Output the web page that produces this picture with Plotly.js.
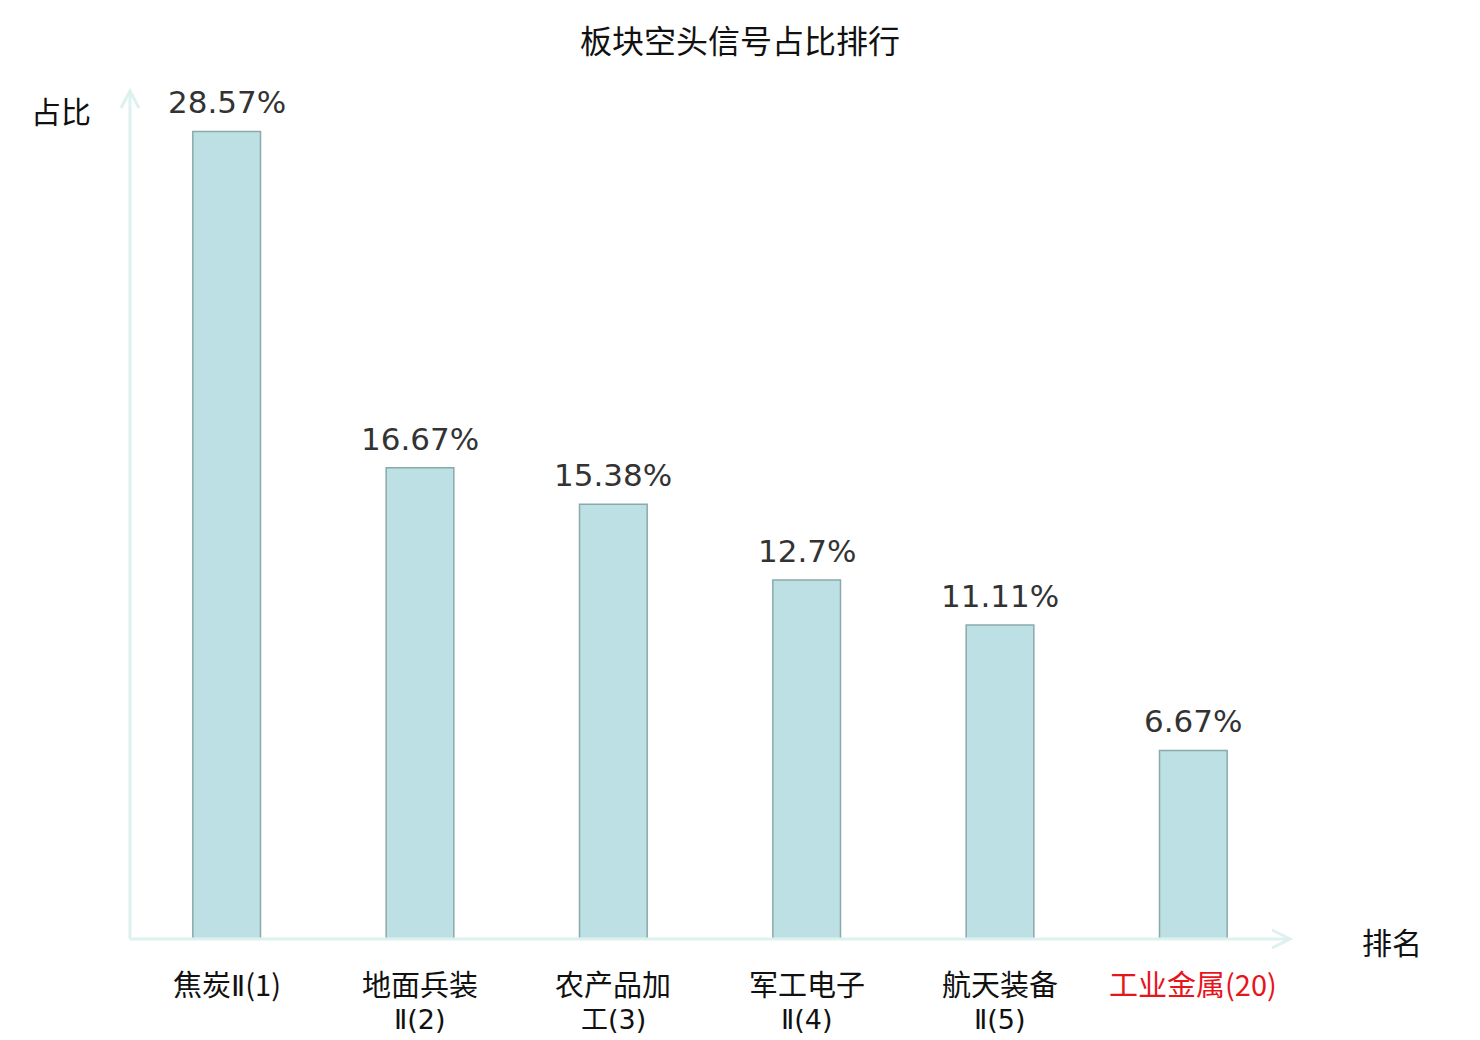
<!DOCTYPE html>
<html>
<head>
<meta charset="utf-8">
<script src="https://cdn.plot.ly/plotly-3.0.1.min.js"></script>
<style>html,body{margin:0;padding:0;background:#fff;}#chart{width:1480px;height:1040px;}</style>
</head>
<body>
<div id="chart"></div>
<script>
const categories = ["焦炭Ⅱ(1)", "地面兵装Ⅱ(2)", "农产品加工(3)", "军工电子Ⅱ(4)", "航天装备Ⅱ(5)", "工业金属(20)"];
const tickLine1 = ["焦炭Ⅱ(1)", "地面兵装", "农产品加", "军工电子", "航天装备", "工业金属(20)"];
const tickLine2 = ["", "Ⅱ(2)", "工(3)", "Ⅱ(4)", "Ⅱ(5)", ""];
const tickColors = ["#111111", "#111111", "#111111", "#111111", "#111111", "#e8141b"];
const values = [28.57, 16.67, 15.38, 12.7, 11.11, 6.67];
const valueLabels = ["28.57%", "16.67%", "15.38%", "12.7%", "11.11%", "6.67%"];

const xIdx = categories.map((c, i) => i);
const axisColor = "#ddf1ee";
const cjk = "'Noto Sans CJK SC', 'DejaVu Sans', sans-serif";
const num = "'DejaVu Sans', 'Noto Sans CJK SC', sans-serif";
const tickFontSize = 29;

function fmtLine(s) {
  return s.replace(/Ⅱ/g, "<span style=\"font-family:'DejaVu Sans'\">Ⅱ</span>");
}

const trace = {
  type: "bar",
  x: xIdx,
  y: values,
  width: 0.35,
  marker: {color: "#bce0e3", line: {color: "#8aa9aa", width: 1.5}},
  hoverinfo: "none"
};

const annotations = [
  {text: "占比", xref: "paper", yref: "paper", x: 0, y: 1, xanchor: "right", yanchor: "middle", xshift: -37, yshift: -19,
   showarrow: false, font: {family: cjk, size: 30, color: "#111111"}},
  {text: "排名", xref: "paper", yref: "paper", x: 1, y: 0, xanchor: "left", yanchor: "middle", xshift: 70, yshift: -2,
   showarrow: false, font: {family: cjk, size: 30, color: "#111111"}}
];
xIdx.forEach((i) => {
  annotations.push({text: valueLabels[i], xref: "x", yref: "y", x: i, y: values[i], xanchor: "center", yanchor: "middle",
    yshift: 29, showarrow: false, font: {family: num, size: 31, color: "#333333"}});
  annotations.push({text: fmtLine(tickLine1[i]), xref: "x", yref: "paper", x: i, y: 0, xanchor: "center", yanchor: "middle",
    yshift: -44, showarrow: false, borderpad: 0,
    font: {family: cjk, size: tickFontSize, color: tickColors[i]}});
  if (tickLine2[i]) {
    annotations.push({text: fmtLine(tickLine2[i]), xref: "x", yref: "paper", x: i, y: 0, xanchor: "center", yanchor: "middle",
      yshift: -80, showarrow: false, borderpad: 0,
      font: {family: num, size: 27, color: tickColors[i]}});
  }
});

const layout = {
  width: 1480, height: 1040,
  margin: {l: 130, r: 190, t: 91, b: 101},
  paper_bgcolor: "#ffffff", plot_bgcolor: "#ffffff",
  showlegend: false,
  title: {text: "板块空头信号占比排行", x: 0.5, xref: "container", xanchor: "center", y: 1 - 42 / 1040, yref: "container", yanchor: "middle",
          font: {family: cjk, size: 32, color: "#111111"}},
  xaxis: {range: [-0.5, 5.5], showgrid: false, zeroline: false, showline: false, showticklabels: false, ticks: "", fixedrange: true},
  yaxis: {range: [0, 30], showgrid: false, zeroline: false, showline: false, showticklabels: false, ticks: "", fixedrange: true},
  shapes: [
    {type: "line", xref: "paper", yref: "paper", x0: 0, y0: 0, x1: 1, y1: 0, line: {color: axisColor, width: 3}},
    {type: "line", xref: "paper", yref: "paper", x0: 0, y0: 0, x1: 0, y1: 1, line: {color: axisColor, width: 3}},
    {type: "path", xref: "paper", yref: "paper", xsizemode: "pixel", ysizemode: "pixel", xanchor: 1, yanchor: 0,
     path: "M -18 9 L 0 0 L -18 -9", line: {color: axisColor, width: 3}},
    {type: "path", xref: "paper", yref: "paper", xsizemode: "pixel", ysizemode: "pixel", xanchor: 0, yanchor: 1,
     path: "M -9 -17 L 0 0 L 9 -17", line: {color: axisColor, width: 3}}
  ],
  annotations: annotations
};

Plotly.newPlot("chart", [trace], layout, {displayModeBar: false, staticPlot: true});
</script>
</body>
</html>
